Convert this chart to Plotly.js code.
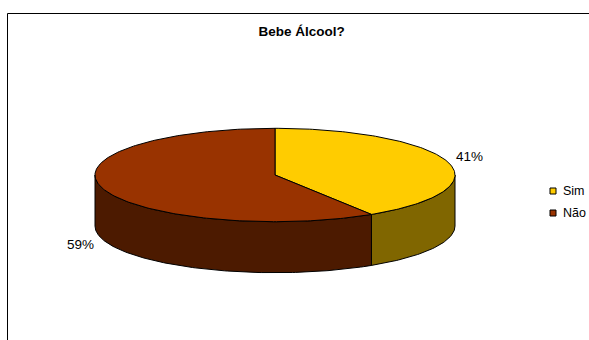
<!DOCTYPE html>
<html>
<head>
<meta charset="utf-8">
<script src="https://cdn.plot.ly/plotly-3.0.1.min.js"></script>
<style>html,body{margin:0;padding:0;background:#fff;}#chart{width:589px;height:340px;}</style>
</head>
<body>
<div id="chart"></div>
<script>
// ---- data ----
const chartTitle = 'Bebe Álcool?';
const categories = ['Sim', 'Não'];
const values = [41, 59];
const topColors = ['#FFCC00', '#993300'];
const sideColors = ['#806600', '#4C1A00'];

// ---- geometry (styling / layout) ----
const W = 589, H = 340;
const cx = 275, cy = 175, rx = 180, ry = 46.7, depth = 51;
const FONT = 'Liberation Sans, Arial, sans-serif';

const total = values.reduce((a, b) => a + b, 0);
const rad = d => d * Math.PI / 180;
const px = t => cx + rx * Math.sin(rad(t));
const py = t => cy - ry * Math.cos(rad(t));

function arc(a, b, dy) {
  const xs = [], ys = [];
  const n = Math.max(2, Math.ceil(Math.abs(b - a)));
  for (let k = 0; k <= n; k++) {
    const t = a + (b - a) * k / n;
    xs.push(px(t)); ys.push(py(t) + dy);
  }
  return {xs, ys};
}

const traces = [];
const tops = [];
const annotations = [];
const shapes = [];
let start = 0;
values.forEach((v, i) => {
  const sweep = v / total * 360;
  const a = start, b = start + sweep;
  // visible side face (front half: 90..270 deg)
  const lo = Math.max(a, 90), hi = Math.min(b, 270);
  if (hi > lo) {
    const top = arc(lo, hi, 0);
    const bot = arc(hi, lo, depth);
    traces.push({
      type: 'scatter', mode: 'lines', fill: 'toself',
      x: top.xs.concat(bot.xs, [top.xs[0]]),
      y: top.ys.concat(bot.ys, [top.ys[0]]),
      fillcolor: sideColors[i], line: {color: '#000', width: 1},
      hoverinfo: 'skip', showlegend: false
    });
  }
  // top face
  const t = arc(a, b, 0);
  tops.push({
    type: 'scatter', mode: 'lines', fill: 'toself',
    x: [cx].concat(t.xs, [cx]),
    y: [cy].concat(t.ys, [cy]),
    fillcolor: topColors[i], line: {color: '#000', width: 1},
    hoverinfo: 'skip', showlegend: false, name: categories[i]
  });
  // percentage label
  const mid = a + sweep / 2;
  const lx = cx + (rx + 23) * Math.sin(rad(mid));
  let ly = cy - (ry + 21) * Math.cos(rad(mid));
  if (Math.cos(rad(mid)) < 0) ly += depth;
  annotations.push({
    x: lx, y: ly, xref: 'x', yref: 'y', showarrow: false,
    text: Math.round(v / total * 100) + '%',
    xanchor: 'center', yanchor: 'middle',
    font: {family: FONT, size: 13.5, color: '#000'}
  });
  // legend entry
  const ly2 = 191 + i * 22;
  shapes.push({type: 'rect', xref: 'x', yref: 'y', x0: 550, x1: 556, y0: ly2 - 3, y1: ly2 + 3,
    fillcolor: topColors[i], line: {color: '#000', width: 1}});
  annotations.push({
    x: 561, y: ly2, xref: 'x', yref: 'y', showarrow: false, text: categories[i],
    xanchor: 'left', yanchor: 'middle', font: {family: FONT, size: 12.5, color: '#000'}
  });
  start = b;
});

// chart frame
shapes.push({type: 'rect', xref: 'x', yref: 'y', x0: 7.5, y0: 13.5, x1: 620, y1: 380,
  line: {color: '#000', width: 1}, fillcolor: 'rgba(0,0,0,0)', layer: 'below'});

const layout = {
  width: W, height: H,
  margin: {l: 0, r: 0, t: 0, b: 0},
  paper_bgcolor: '#fff', plot_bgcolor: '#fff',
  showlegend: false,
  title: {
    text: '<b>' + chartTitle + '</b>',
    x: 301.7 / W, xref: 'paper', xanchor: 'center',
    y: 1 - 31 / H, yref: 'paper', yanchor: 'middle',
    font: {family: FONT, size: 13.5, color: '#000'}
  },
  xaxis: {range: [0, W], visible: false, fixedrange: true},
  yaxis: {range: [H, 0], visible: false, fixedrange: true},
  annotations, shapes,
  hovermode: false
};

Plotly.newPlot('chart', traces.concat(tops), layout, {staticPlot: true, displayModeBar: false});
</script>
</body>
</html>
